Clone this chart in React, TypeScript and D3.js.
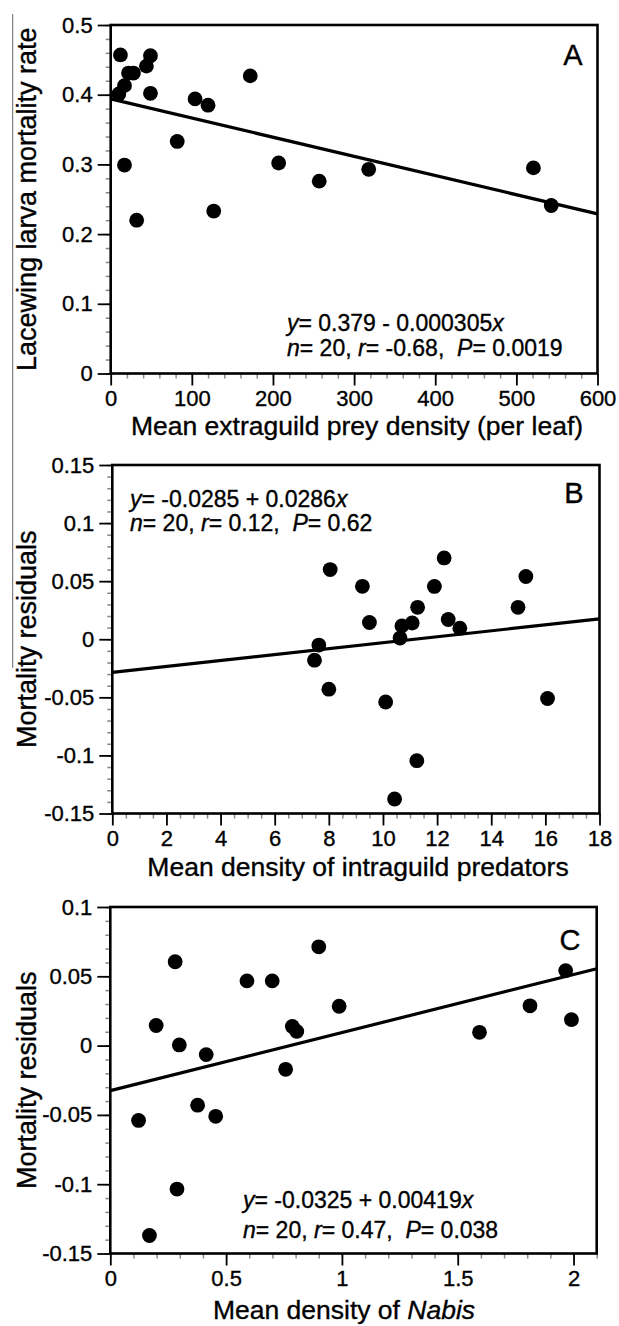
import React, { useEffect, useRef } from 'react';
import * as d3 from 'd3';

// Panel A: mortality vs extraguild prey density
const preyDensity = [12, 10, 17, 22, 28, 17, 32, 44, 49, 49, 82, 104, 120, 127, 172, 207, 257, 318, 521, 543];
const larvaMortality = [0.457, 0.401, 0.413, 0.431, 0.431, 0.299, 0.220, 0.441, 0.456, 0.402, 0.333, 0.394, 0.385, 0.233, 0.427, 0.302, 0.276, 0.293, 0.295, 0.241];
const fitA = [0.394, 0.229];
const xTicksA = [0, 100, 200, 300, 400, 500, 600];
const yTicksA = [0, 0.1, 0.2, 0.3, 0.4, 0.5];
const yLabelsA = ['0', '0.1', '0.2', '0.3', '0.4', '0.5'];

// Panel B: residuals vs intraguild predators
const predatorDensity = [8.05, 9.24, 9.5, 7.63, 7.47, 8.0, 10.1, 11.25, 10.43, 10.63, 10.7, 11.08, 11.28, 11.9, 12.26, 12.41, 12.84, 14.99, 15.28, 16.08];
const residualsB = [0.060, 0.0456, 0.0144, -0.005, -0.018, -0.043, -0.054, -0.1045, -0.1375, 0.001, 0.0115, 0.014, 0.0275, 0.0455, 0.070, 0.017, 0.0095, 0.0275, 0.054, -0.051];
const fitB = [-0.0285, 0.0175];
const xTicksB = [0, 2, 4, 6, 8, 10, 12, 14, 16, 18];
const yTicksB = [-0.15, -0.1, -0.05, 0, 0.05, 0.1, 0.15];
const yLabelsB = ['-0.15', '-0.1', '-0.05', '0', '0.05', '0.1', '0.15'];

// Panel C: residuals vs Nabis
const nabisDensity = [0.122, 0.169, 0.198, 0.28, 0.288, 0.298, 0.377, 0.414, 0.455, 0.59, 0.699, 0.757, 0.786, 0.805, 0.9, 0.988, 1.594, 1.812, 1.966, 1.991];
const residualsC = [-0.054, -0.137, 0.0145, 0.0605, -0.1035, 0.0005, -0.043, -0.0065, -0.051, 0.0467, 0.0467, -0.0171, 0.0138, 0.0102, 0.0713, 0.0284, 0.0096, 0.0287, 0.0541, 0.0187];
const fitC = [-0.0325, 0.0555];
const xTicksC = [0, 0.5, 1, 1.5, 2];
const xLabelsC = ['0', '0.5', '1', '1.5', '2'];
const yTicksC = [-0.15, -0.1, -0.05, 0, 0.05, 0.1];
const yLabelsC = ['-0.15', '-0.1', '-0.05', '0', '0.05', '0.1'];

const FONT = '"Liberation Sans", Arial, Helvetica, sans-serif';

type Seg = [string, boolean];

// scanned text looks a bit heavier than plain regular
function heavy(sel) {
  return sel.attr('stroke', '#000').attr('stroke-width', 0.35);
}

function drawPanel(svg, p) {
  const x = d3.scaleLinear().domain(p.xDomain).range([p.left, p.right]);
  const y = d3.scaleLinear().domain(p.yDomain).range([p.bottom, p.top]);
  const g = svg.append('g').attr('font-family', FONT);

  // minor ticks
  const xAxisMinor = d3.axisBottom(x).tickValues(d3.range(p.xDomain[0], p.xDomain[1] + 1e-9, p.xMinor)).tickSize(5).tickFormat(() => '');
  const yAxisMinor = d3.axisLeft(y).tickValues(d3.range(p.yDomain[0], p.yDomain[1] + 1e-9, p.yMinor)).tickSize(5).tickFormat(() => '');
  g.append('g').attr('transform', `translate(0,${p.bottom})`).call(xAxisMinor)
    .call(s => s.select('.domain').remove())
    .call(s => s.selectAll('line').attr('stroke', '#888').attr('stroke-width', 1.5));
  g.append('g').attr('transform', `translate(${p.left},0)`).call(yAxisMinor)
    .call(s => s.select('.domain').remove())
    .call(s => s.selectAll('line').attr('stroke', '#888').attr('stroke-width', 1.5));

  // major ticks
  const xAxis = d3.axisBottom(x).tickValues(p.xTicks).tickSize(12).tickPadding(5)
    .tickFormat((d, i) => (p.xLabels ? p.xLabels[i] : String(d)));
  const yAxis = d3.axisLeft(y).tickValues(p.yTicks).tickSize(13).tickPadding(5)
    .tickFormat((d, i) => p.yLabels[i]);
  g.append('g').attr('transform', `translate(0,${p.bottom})`).call(xAxis)
    .call(s => s.select('.domain').remove())
    .call(s => s.selectAll('line').attr('stroke', '#000').attr('stroke-width', 1.8))
    .call(s => heavy(s.selectAll('text').attr('font-size', 22).attr('font-family', FONT).attr('fill', '#000')));
  g.append('g').attr('transform', `translate(${p.left},0)`).call(yAxis)
    .call(s => s.select('.domain').remove())
    .call(s => s.selectAll('line').attr('stroke', '#000').attr('stroke-width', 1.8))
    .call(s => heavy(s.selectAll('text').attr('font-size', 22).attr('font-family', FONT).attr('fill', '#000')));

  // frame
  g.append('rect')
    .attr('x', p.left).attr('y', p.top)
    .attr('width', p.right - p.left).attr('height', p.bottom - p.top)
    .attr('fill', 'none').attr('stroke', '#000').attr('stroke-width', 2.6);

  // regression line
  g.append('line')
    .attr('x1', x(p.xDomain[0])).attr('y1', y(p.fit[0]))
    .attr('x2', x(p.xDomain[1])).attr('y2', y(p.fit[1]))
    .attr('stroke', '#000').attr('stroke-width', 3.2);

  // points
  g.selectAll('circle.pt')
    .data(p.xs.map((v, i) => [v, p.ys[i]]))
    .enter()
    .append('circle')
    .attr('class', 'pt')
    .attr('cx', d => x(d[0]))
    .attr('cy', d => y(d[1]))
    .attr('r', 7.4)
    .attr('fill', '#000');

  // panel letter
  heavy(g.append('text')
    .attr('x', p.letterX).attr('y', p.letterY)
    .attr('text-anchor', 'middle')
    .attr('font-size', 29)
    .text(p.letter));

  // stats annotation
  p.notes.forEach((line: Seg[], li) => {
    const t = heavy(g.append('text')
      .attr('x', p.noteX).attr('y', p.noteY[li])
      .attr('font-size', 23)
      .style('white-space', 'pre'));
    line.forEach(([txt, it]) => {
      t.append('tspan').attr('font-style', it ? 'italic' : 'normal').text(txt);
    });
  });

  // axis titles
  const xt = heavy(g.append('text')
    .attr('x', p.xTitleX).attr('y', p.xTitleY)
    .attr('text-anchor', 'middle')
    .attr('font-size', 26.5));
  p.xTitle.forEach(([txt, it]) => {
    xt.append('tspan').attr('font-style', it ? 'italic' : 'normal').text(txt);
  });
  heavy(g.append('text')
    .attr('transform', `translate(36,${(p.top + p.bottom) / 2}) rotate(-90)`)
    .attr('text-anchor', 'middle')
    .attr('font-size', 27)
    .text(p.yTitle));
}

export default function App() {
  const svgRef = useRef(null);

  useEffect(() => {
    const svg = d3.select(svgRef.current);
    svg.selectAll('*').remove();

    // stray scan line at left edge
    svg.append('line')
      .attr('x1', 12.7).attr('x2', 12.7).attr('y1', 14).attr('y2', 668)
      .attr('stroke', '#666').attr('stroke-width', 1);

    drawPanel(svg, {
      left: 110.7, right: 597.5, top: 25, bottom: 373.5,
      xDomain: [0, 600], yDomain: [0, 0.5], xMinor: 20, yMinor: 0.02,
      xTicks: xTicksA, yTicks: yTicksA, yLabels: yLabelsA,
      xs: preyDensity, ys: larvaMortality, fit: fitA,
      letter: 'A', letterX: 573, letterY: 65,
      noteX: 287, noteY: [331, 356],
      notes: [
        [['y', true], ['= 0.379 - 0.000305', false], ['x', true]],
        [['n', true], ['= 20, ', false], ['r', true], ['= -0.68,  ', false], ['P', true], ['= 0.0019', false]],
      ],
      xTitle: [['Mean extraguild prey density (per leaf)', false]], xTitleX: 357, xTitleY: 435,
      yTitle: 'Lacewing larva mortality rate',
    });

    drawPanel(svg, {
      left: 112.3, right: 599.5, top: 465, bottom: 813.5,
      xDomain: [0, 18], yDomain: [-0.15, 0.15], xMinor: 0.5, yMinor: 0.01,
      xTicks: xTicksB, yTicks: yTicksB, yLabels: yLabelsB,
      xs: predatorDensity, ys: residualsB, fit: fitB,
      letter: 'B', letterX: 574, letterY: 503,
      noteX: 130, noteY: [507, 531],
      notes: [
        [['y', true], ['= -0.0285 + 0.0286', false], ['x', true]],
        [['n', true], ['= 20, ', false], ['r', true], ['= 0.12,  ', false], ['P', true], ['= 0.62', false]],
      ],
      xTitle: [['Mean density of intraguild predators', false]], xTitleX: 358, xTitleY: 876,
      yTitle: 'Mortality residuals',
    });

    drawPanel(svg, {
      left: 110.3, right: 596.7, top: 907, bottom: 1253.5,
      xDomain: [0, 2.1], yDomain: [-0.15, 0.1], xMinor: 0.1, yMinor: 0.01,
      xTicks: xTicksC, xLabels: xLabelsC, yTicks: yTicksC, yLabels: yLabelsC,
      xs: nabisDensity, ys: residualsC, fit: fitC,
      letter: 'C', letterX: 570, letterY: 950,
      noteX: 243, noteY: [1208, 1238],
      notes: [
        [['y', true], ['= -0.0325 + 0.00419', false], ['x', true]],
        [['n', true], ['= 20, ', false], ['r', true], ['= 0.47,  ', false], ['P', true], ['= 0.038', false]],
      ],
      xTitle: [['Mean density of ', false], ['Nabis', true]], xTitleX: 344, xTitleY: 1319,
      yTitle: 'Mortality residuals',
    });
  }, []);

  return (
    <svg
      ref={svgRef}
      width={619}
      height={1326}
      style={{ position: 'absolute', left: 0, top: 0, background: '#fff' }}
    />
  );
}
